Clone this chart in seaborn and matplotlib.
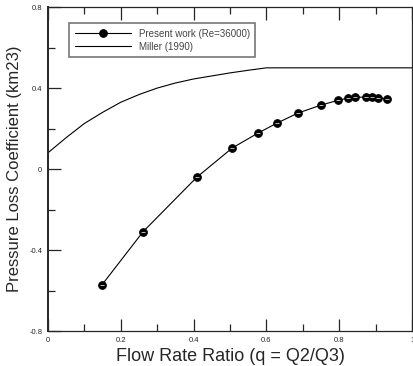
import pandas as pd
import seaborn as sns
import matplotlib.pyplot as plt
from matplotlib.ticker import MultipleLocator

# Present work (Re=36000)
present_q = [0.148, 0.261, 0.409, 0.506, 0.577, 0.629, 0.687, 0.750, 0.797,
             0.824, 0.843, 0.874, 0.890, 0.907, 0.931]
present_k = [-0.573, -0.31, -0.04, 0.104, 0.178, 0.227, 0.277, 0.316, 0.340,
             0.350, 0.355, 0.355, 0.355, 0.350, 0.348]

# Miller (1990)
miller_q = [0.0, 0.05, 0.1, 0.15, 0.2, 0.25, 0.3, 0.35, 0.4, 0.45, 0.5, 0.55,
            0.6, 0.7, 0.8, 0.9, 1.0]
miller_k = [0.08, 0.155, 0.225, 0.28, 0.33, 0.368, 0.40, 0.425, 0.445, 0.46,
            0.475, 0.488, 0.50, 0.50, 0.50, 0.50, 0.50]

x_ticks = [0, 0.2, 0.4, 0.6, 0.8, 1.0]
x_labels = ["0", "0.2", "0.4", "0.6", "0.8", "1"]
y_ticks = [-0.8, -0.4, 0, 0.4, 0.8]
y_labels = ["-0.8", "-0.4", "0", "0.4", "0.8"]

present = pd.DataFrame({"q": present_q, "k": present_k})
miller = pd.DataFrame({"q": miller_q, "k": miller_k})

sns.set_style("ticks")
plt.rcParams["font.family"] = ["Liberation Sans", "DejaVu Sans"]

fig = plt.figure(figsize=(4.13, 3.66), dpi=100)
ax = fig.add_axes([0.116, 0.0956, 0.882, 0.885])

sns.lineplot(data=present, x="q", y="k", ax=ax, color="black", linewidth=0.8,
             marker="o", markersize=5.5, markerfacecolor="black",
             markeredgecolor="black", label="Present work (Re=36000)")
# grey highlight on the markers
ax.plot(present["q"], present["k"], linestyle="none", marker="_",
        markersize=2.5, color="#bbbbbb", markeredgewidth=0.7)
sns.lineplot(data=miller, x="q", y="k", ax=ax, color="black", linewidth=0.8,
             label="Miller (1990)")

ax.set_xlim(0, 1)
ax.set_ylim(-0.8, 0.8)
ax.set_xticks(x_ticks)
ax.set_xticklabels(x_labels)
ax.set_yticks(y_ticks)
ax.set_yticklabels(y_labels)
ax.xaxis.set_minor_locator(MultipleLocator(0.1))
ax.yaxis.set_minor_locator(MultipleLocator(0.2))
ax.tick_params(which="both", direction="in", top=True, right=False,
               labelsize=5.5, width=0.9, pad=4)
ax.tick_params(which="major", length=9)
ax.tick_params(which="minor", length=5)
for s in ax.spines.values():
    s.set_linewidth(0.9)
ax.spines["left"].set_linewidth(1.4)

ax.set_xlabel("Flow Rate Ratio (q = Q2/Q3)", fontsize=13, labelpad=3)
ax.set_ylabel("Pressure Loss Coefficient (km23)", fontsize=12, labelpad=5)

leg = ax.legend(loc="upper left", bbox_to_anchor=(0.045, 0.965), fontsize=7,
                handlelength=5.8, frameon=True, fancybox=False, borderpad=0.55,
                labelspacing=0.3)
leg.get_frame().set_edgecolor("#555555")
leg.get_frame().set_linewidth(1.2)
for t in leg.get_texts():
    t.set_color("#444444")

fig.savefig("out.png", dpi=100)
